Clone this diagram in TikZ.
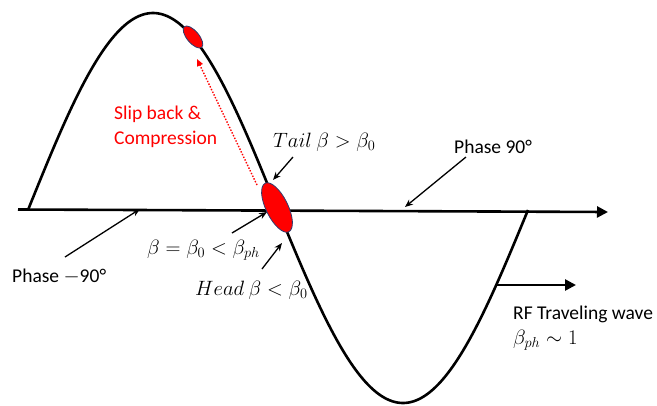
\documentclass[tikz,border=0pt]{standalone}
\usepackage{fontspec}
\setmainfont{Carlito}
\usetikzlibrary{arrows.meta,shapes.geometric}
\begin{document}
\begin{tikzpicture}[x=1pt,y=-1pt,
  thickline/.style={line width=2.6pt},
  ptr/.style={line width=1.3pt,-{Stealth[length=8pt,width=6.5pt]}},
  lbl/.style={inner sep=0pt,font=\fontsize{19.5}{24}\selectfont},
  bunch/.style={ellipse,draw={rgb,255:red,47;green,60;blue,110},line width=0.8pt,fill=red,inner sep=0pt}]
\useasboundingbox (0,0) rectangle (657,405);
% axis
\coordinate (axL) at (18,209.5);
\coordinate (axR) at (608,212);
\draw[thickline,-{Triangle[length=11pt,width=11pt]}] (axL) -- (axR);
% RF wave
\draw[thickline,line join=round]
  plot[domain=28:278,samples=120] (\x,{210-197*sin(0.72*(\x-28))})
  -- plot[domain=278:528,samples=120] (\x,{210-193*sin(0.72*(\x-28))});
% bunches
\node[bunch,minimum width=54pt,minimum height=22pt,rotate=-64] (b0) at (277,207.5) {};
\node[bunch,minimum width=27pt,minimum height=12pt,rotate=-50] (b1) at (193,37) {};
% labels
\node[lbl,red,anchor=base west] (slip1) at (114,119) {Slip back \&};
\node[lbl,red,anchor=base west] (slip2) at (114,144) {Compression};
\node[lbl,anchor=base west] (tail) at (273,147) {$Tail\ \beta>\beta_0$};
\node[lbl,anchor=base west] (p90) at (454,153) {Phase 90°};
\node[lbl,anchor=base west] (pm90) at (12,282) {Phase $-$90°};
\node[lbl,anchor=base west] (beq) at (147,254) {$\beta=\beta_0<\beta_{ph}$};
\node[lbl,anchor=base west] (head) at (195,295) {$Head\ \beta<\beta_0$};
\node[lbl,anchor=base west] (rf) at (513,319) {RF Traveling wave};
\node[lbl,anchor=base west] (bph) at (513,344) {$\beta_{ph}\sim 1$};
% pointer coordinates
\coordinate (pm90s) at (65,257);  \coordinate (pm90e) at (140,209);
\coordinate (beqs) at (232,233);  \coordinate (beqe) at (267,212);
\coordinate (heads) at (262,269); \coordinate (heade) at (282,243);
\coordinate (tails) at (293,157); \coordinate (taile) at (273,180);
\coordinate (p90s) at (466,157);  \coordinate (p90e) at (405,207);
\coordinate (rfs) at (497,285);   \coordinate (rfe) at (576,285);
\coordinate (slips) at (257,185); \coordinate (slipe) at (197,59);
\draw[ptr] (pm90s) -- (pm90e);
\draw[ptr] (beqs) -- (beqe);
\draw[ptr] (heads) -- (heade);
\draw[ptr] (tails) -- (taile);
\draw[ptr] (p90s) -- (p90e);
\draw[thickline,-{Triangle[length=11pt,width=11pt]}] (rfs) -- (rfe);
\draw[red,line width=1.4pt,dash pattern=on 1.4pt off 1.6pt,-{Triangle[length=7pt,width=6pt]}] (slips) -- (slipe);
\end{tikzpicture}
\end{document}
